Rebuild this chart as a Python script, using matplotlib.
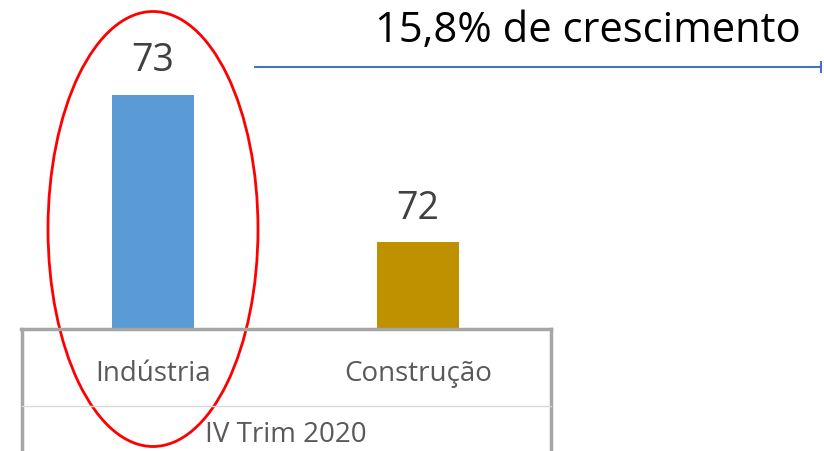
import matplotlib.pyplot as plt
from matplotlib.lines import Line2D
from matplotlib.patches import Ellipse

categories = ['Indústria', 'Construção']
values = [73, 72]
bar_colors = ['#5B9BD5', '#BF9000']
group_label = 'IV Trim 2020'
growth_text = '15,8% de crescimento'

W, H = 824, 451
plt.rcParams['font.family'] = ['Open Sans', 'DejaVu Sans']

fig = plt.figure(figsize=(W / 100, H / 100), dpi=100)


def fx(px):
	return px / W


def fy(py):
	return 1 - py / H


# axes spans the category box, baseline at y=328 px
ax = fig.add_axes([fx(20.5), fy(328), fx(530), 328 / H])
ax.set_xlim(-0.5, 1.5)
ax.set_ylim(71.42, 73.64)
ax.bar(range(len(values)), values, width=0.31, color=bar_colors, bottom=0)
for i, v in enumerate(values):
	ax.annotate(str(v), (i, v), xytext=(0, 24), textcoords='offset points',
		ha='center', va='center', fontsize=27, color='#404040')
ax.axis('off')

# category box
grey = '#A6A6A6'
fig.add_artist(Line2D([fx(21), fx(551)], [fy(329), fy(329)], color=grey, lw=2.5))
fig.add_artist(Line2D([fx(22), fx(22)], [fy(329), fy(451)], color=grey, lw=2.5))
fig.add_artist(Line2D([fx(551), fx(551)], [fy(329), fy(451)], color=grey, lw=2.5))
fig.add_artist(Line2D([fx(22), fx(551)], [fy(406), fy(406)], color='#D9D9D9', lw=1))

for i, c in enumerate(categories):
	fig.text(fx(153 + 265 * i), fy(374), c, ha='center', va='center',
		fontsize=20, color='#595959')
fig.text(fx(286), fy(435), group_label, ha='center', va='center',
	fontsize=20, color='#595959')

# highlight ellipse
fig.add_artist(Ellipse((fx(153), fy(229)), fx(210), 435 / H, fill=False,
	edgecolor='#FF0000', lw=2))

# growth arrow
fig.add_artist(Line2D([fx(255), fx(820)], [fy(67), fy(67)], color='#4472C4', lw=1.5))
fig.add_artist(Line2D([fx(821), fx(821)], [fy(62), fy(72)], color='#4472C4', lw=1.5))
fig.text(fx(588), fy(31), growth_text, ha='center', va='center',
	fontsize=30, color='black')

fig.savefig('out.png', dpi=100)
